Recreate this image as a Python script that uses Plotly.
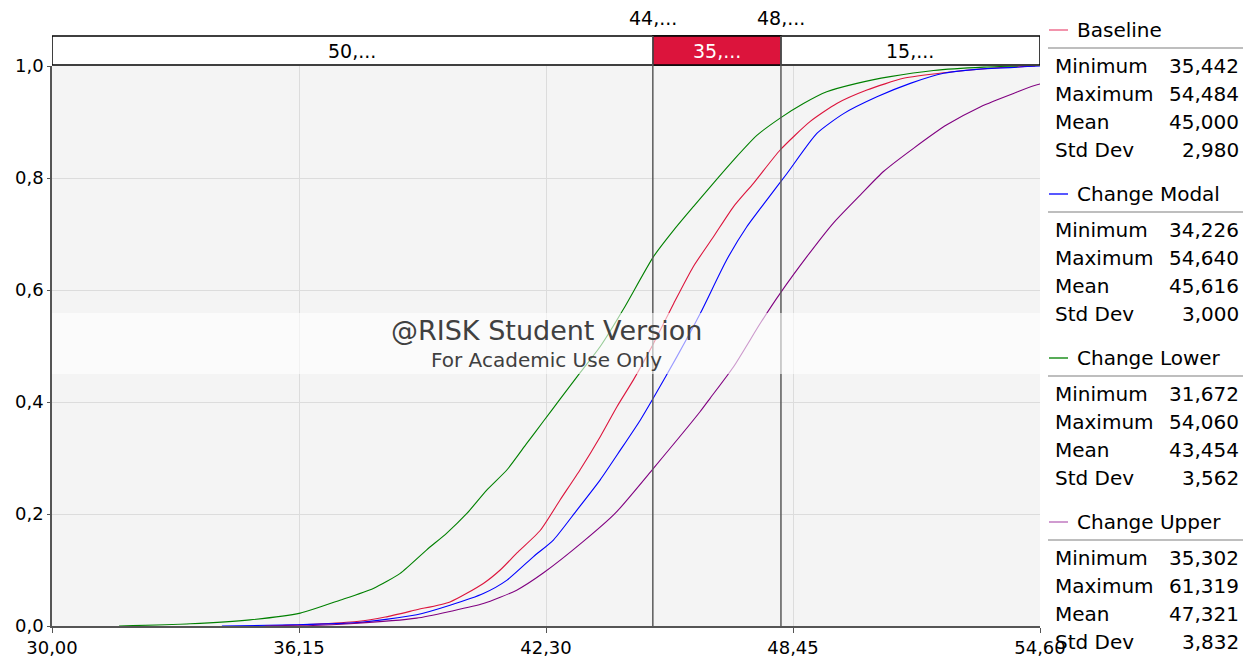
import plotly.graph_objects as go

# ---------------- data ----------------
series_names = ["Baseline", "Change Modal", "Change Lower", "Change Upper"]
series_colors = ["#DC143C", "#0000FF", "#008000", "#800080"]
legend_colors = ["#EE7090", "#2020FF", "#209020", "#C07AC0"]

baseline_x = [35.44, 36.5, 37.59, 38.3, 39.08, 39.91, 40.74, 41.16, 41.57, 42.16, 42.65, 43.15,
              43.65, 44.07, 44.48, 44.98, 45.48, 45.97, 46.47, 46.97, 47.47, 48.13, 48.88, 49.54,
              50.29, 51.2, 52.2, 53.37, 54.48]
baseline_y = [0.0, 0.003, 0.008, 0.016, 0.029, 0.043, 0.076, 0.1, 0.13, 0.171, 0.225, 0.279,
              0.338, 0.392, 0.44, 0.505, 0.576, 0.642, 0.695, 0.749, 0.791, 0.85, 0.901, 0.933,
              0.957, 0.978, 0.988, 0.996, 1.0]

modal_x = [34.23, 36.0, 37.6, 39.08, 39.91, 40.74, 41.33, 41.99, 42.49, 43.07, 43.65, 44.15,
           44.65, 44.98, 45.56, 46.14, 46.8, 47.3, 47.8, 48.3, 49.05, 49.71, 50.54, 51.37,
           52.2, 53.03, 54.64]
modal_y = [0.0, 0.002, 0.006, 0.02, 0.037, 0.058, 0.082, 0.124, 0.154, 0.207, 0.261, 0.314,
           0.368, 0.408, 0.481, 0.558, 0.654, 0.713, 0.761, 0.808, 0.88, 0.915, 0.945, 0.969,
           0.987, 0.994, 1.0]

lower_x = [31.67, 33.44, 34.93, 36.18, 37.17, 38.0, 38.67, 39.33, 39.83, 40.33, 40.83, 41.33,
           41.82, 42.24, 42.65, 43.07, 43.65, 44.23, 44.98, 45.48, 45.97, 46.47, 46.97, 47.55,
           48.13, 48.71, 49.29, 50.04, 50.87, 51.95, 53.2, 54.06]
lower_y = [0.0, 0.004, 0.011, 0.023, 0.046, 0.067, 0.094, 0.136, 0.166, 0.201, 0.243, 0.279,
           0.326, 0.366, 0.405, 0.445, 0.499, 0.566, 0.66, 0.707, 0.749, 0.791, 0.832, 0.876,
           0.907, 0.933, 0.954, 0.969, 0.981, 0.992, 0.998, 1.0]

upper_x = [35.3, 36.5, 37.42, 39.08, 39.91, 40.74, 41.57, 42.24, 43.23, 44.02, 44.98, 46.14,
           46.39, 46.97, 47.64, 48.13, 48.8, 49.46, 50.13, 50.71, 51.45, 52.28, 53.11, 53.94,
           54.6, 61.32]
upper_y = [0.0, 0.001, 0.004, 0.014, 0.026, 0.04, 0.064, 0.095, 0.151, 0.201, 0.282, 0.383,
           0.407, 0.463, 0.541, 0.594, 0.66, 0.72, 0.77, 0.812, 0.853, 0.895, 0.927, 0.951,
           0.968, 1.0]

curves_x = [baseline_x, modal_x, lower_x, upper_x]
curves_y = [baseline_y, modal_y, lower_y, upper_y]

stat_labels = ["Minimum", "Maximum", "Mean", "Std Dev"]
stat_values = [
    ["35,442", "54,484", "45,000", "2,980"],
    ["34,226", "54,640", "45,616", "3,000"],
    ["31,672", "54,060", "43,454", "3,562"],
    ["35,302", "61,319", "47,321", "3,832"],
]

x_ticks = [30.0, 36.15, 42.30, 48.45, 54.60]
x_ticktext = ["30,00", "36,15", "42,30", "48,45", "54,60"]
y_ticks = [0.0, 0.2, 0.4, 0.6, 0.8, 1.0]
y_ticktext = ["0,0", "0,2", "0,4", "0,6", "0,8", "1,0"]

delimiters = [44.96, 48.15]
delimiter_labels = ["44,...", "48,..."]
band_labels = ["50,...", "35,...", "15,..."]

FONT = "DejaVu Sans"

# ---------------- layout geometry (pixels) ----------------
W, H = 1251, 658
L, R, T, B = 52, 211, 66, 32
PW, PH = W - L - R, H - T - B


def px(x):
    return (x - L) / PW


def py(y):
    return (H - B - y) / PH


fig = go.Figure()

for name, xs, ys, col in zip(series_names, curves_x, curves_y, series_colors):
    fig.add_trace(go.Scatter(x=xs, y=ys, mode="lines", name=name,
                             line=dict(color=col, width=1.1, shape="spline", smoothing=0.6),
                             showlegend=False, hoverinfo="skip"))

# delimiter triangles
fig.add_trace(go.Scatter(x=delimiters, y=[py(35)] * 2, mode="markers",
                         marker=dict(symbol="triangle-down", size=10, color="#404040"),
                         cliponaxis=False, showlegend=False, hoverinfo="skip"))

shapes = []
annotations = []

# top band
band_y0, band_y1 = py(65), py(36)
shapes.append(dict(type="rect", xref="x", yref="paper", x0=x_ticks[0], x1=x_ticks[-1],
                   y0=band_y0, y1=band_y1, fillcolor="white",
                   line=dict(color="black", width=1.5), layer="above"))
shapes.append(dict(type="rect", xref="x", yref="paper", x0=delimiters[0], x1=delimiters[1],
                   y0=band_y0, y1=band_y1, fillcolor="#DC143C",
                   line=dict(color="black", width=1.5), layer="above"))
for d in delimiters:
    shapes.append(dict(type="line", xref="x", yref="paper", x0=d, x1=d, y0=0, y1=band_y1,
                       line=dict(color="#5a5a5a", width=1.5), layer="above"))

seg_bounds = [x_ticks[0]] + delimiters + [x_ticks[-1]]
for i, lab in enumerate(band_labels):
    annotations.append(dict(x=(seg_bounds[i] + seg_bounds[i + 1]) / 2, y=py(51),
                            xref="x", yref="paper", text=lab, showarrow=False,
                            font=dict(family=FONT, size=19,
                                      color="white" if i == 1 else "black"),
                            xanchor="center", yanchor="middle"))
for d, lab in zip(delimiters, delimiter_labels):
    annotations.append(dict(x=d, y=py(18), xref="x", yref="paper", text=lab,
                            showarrow=False, font=dict(family=FONT, size=19, color="black"),
                            xanchor="center", yanchor="middle"))

# watermark band + text
shapes.append(dict(type="rect", xref="paper", yref="paper", x0=0, x1=1,
                   y0=py(374), y1=py(313), fillcolor="rgba(255,255,255,0.6)",
                   line=dict(width=0), layer="above"))
annotations.append(dict(x=0.5, y=py(330), xref="paper", yref="paper",
                        text="@RISK Student Version", showarrow=False,
                        font=dict(family=FONT, size=27, color="#404040"),
                        xanchor="center", yanchor="middle"))
annotations.append(dict(x=0.5, y=py(360), xref="paper", yref="paper",
                        text="For Academic Use Only", showarrow=False,
                        font=dict(family=FONT, size=20, color="#404040"),
                        xanchor="center", yanchor="middle"))

# stats legend panel
for i, name in enumerate(series_names):
    off = 164 * i
    shapes.append(dict(type="line", xref="paper", yref="paper", x0=px(1049), x1=px(1068),
                       y0=py(30 + off), y1=py(30 + off),
                       line=dict(color=legend_colors[i], width=1.5)))
    annotations.append(dict(x=px(1075), y=py(30 + off), xref="paper", yref="paper",
                            text=name, showarrow=False,
                            font=dict(family=FONT, size=20, color="black"),
                            xanchor="left", yanchor="middle"))
    shapes.append(dict(type="line", xref="paper", yref="paper", x0=px(1048), x1=px(1243),
                       y0=py(48 + off), y1=py(48 + off),
                       line=dict(color="#a8a8a8", width=1.5)))
    for j, (sl, sv) in enumerate(zip(stat_labels, stat_values[i])):
        yy = py(66 + 28 * j + off)
        annotations.append(dict(x=px(1053), y=yy, xref="paper", yref="paper", text=sl,
                                showarrow=False, font=dict(family=FONT, size=20, color="black"),
                                xanchor="left", yanchor="middle"))
        annotations.append(dict(x=px(1241), y=yy, xref="paper", yref="paper", text=sv,
                                showarrow=False, font=dict(family=FONT, size=20, color="black"),
                                xanchor="right", yanchor="middle"))

fig.update_layout(
    width=W, height=H,
    margin=dict(l=L, r=R, t=T, b=B, pad=0, autoexpand=False),
    paper_bgcolor="white",
    plot_bgcolor="#f4f4f4",
    shapes=shapes,
    annotations=annotations,
    showlegend=False,
    font=dict(family=FONT, size=18, color="black"),
    xaxis=dict(range=[x_ticks[0], x_ticks[-1]], tickvals=x_ticks, ticktext=x_ticktext,
               automargin=False,
               showgrid=True, gridcolor="#dcdcdc", gridwidth=1, zeroline=False,
               showline=True, linecolor="#555555", linewidth=1.5,
               ticks="outside", ticklen=5, tickcolor="#555555",
               tickfont=dict(family=FONT, size=18, color="black")),
    yaxis=dict(range=[0, 1], tickvals=y_ticks, ticktext=y_ticktext,
               automargin=False,
               showgrid=True, gridcolor="#dcdcdc", gridwidth=1, zeroline=False,
               showline=True, linecolor="#555555", linewidth=1.5,
               ticks="outside", ticklen=3, tickcolor="#555555",
               tickfont=dict(family=FONT, size=18, color="black")),
)

fig.write_html("out.html", config={"displayModeBar": False},
               post_script="document.body.style.margin='0';")
